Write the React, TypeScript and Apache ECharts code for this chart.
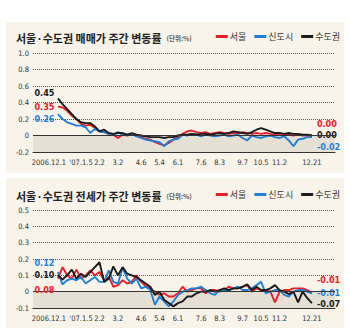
import React, { useEffect, useRef } from 'react';
import * as echarts from 'echarts';

// x positions: weekly observations, index 0 = 2006.12.1, index 55 = 2007.12.21
const tickWeeks = [0, 5, 9, 13, 18, 22, 26, 31, 35, 40, 44, 48, 55];
const tickLabels = ['2006.12.1', "'07.1.5", '2.2', '3.2', '4.6', '5.4', '6.1', '7.6', '8.3', '9.7', '10.5', '11.2', '12.21'];
const seriesNames = ['서울', '신도시', '수도권'];

// 매매가 (sale price) weekly change, %
const saleSeoul = [0.35, 0.34, 0.30, 0.24, 0.20, 0.14, 0.12, 0.13, 0.09, 0.05, 0.04, 0.02, 0.01, -0.03, 0.01, 0.0, 0.02, 0.0, -0.02, -0.04, -0.05, -0.08, -0.10, -0.12, -0.09, -0.05, -0.02, 0.02, 0.05, 0.06, 0.04, 0.03, 0.04, 0.02, 0.03, 0.04, 0.03, 0.02, 0.03, 0.02, 0.04, 0.03, 0.02, 0.03, 0.02, 0.03, 0.02, 0.01, 0.02, 0.02, 0.01, 0.0, 0.01, 0.0, 0.0, 0.0];
const saleNewTown = [0.26, 0.20, 0.16, 0.14, 0.12, 0.12, 0.10, 0.03, 0.08, 0.05, 0.04, 0.02, 0.01, 0.04, 0.01, 0.01, 0.02, -0.01, -0.03, -0.05, -0.06, -0.07, -0.08, -0.13, -0.07, -0.05, -0.04, 0.01, 0.0, 0.02, 0.01, -0.01, 0.01, 0.0, -0.01, 0.0, 0.01, -0.01, 0.0, 0.01, -0.03, -0.06, 0.0, -0.02, -0.03, -0.01, 0.0, -0.02, -0.03, -0.01, -0.06, -0.13, -0.05, -0.04, -0.02, -0.02];
const saleCapital = [0.45, 0.38, 0.32, 0.26, 0.20, 0.16, 0.15, 0.15, 0.11, 0.05, 0.07, 0.03, 0.02, 0.03, 0.03, 0.01, 0.03, 0.01, 0.0, -0.01, -0.02, -0.02, -0.02, -0.03, -0.02, -0.02, 0.0, 0.01, 0.01, 0.02, 0.01, 0.02, 0.02, 0.01, 0.02, 0.03, 0.02, 0.03, 0.05, 0.04, 0.03, 0.02, 0.04, 0.07, 0.09, 0.07, 0.05, 0.03, 0.03, 0.02, 0.03, 0.02, 0.02, 0.01, 0.01, 0.0];

// 전세가 (jeonse) weekly change, %
const rentSeoul = [0.08, 0.15, 0.10, 0.08, 0.135, 0.08, 0.10, 0.13, 0.10, 0.12, 0.07, 0.09, 0.03, 0.04, 0.07, 0.05, 0.06, 0.10, 0.06, 0.035, 0.02, 0.0, -0.02, -0.01, -0.03, -0.03, -0.01, 0.03, 0.0, 0.01, 0.02, 0.02, -0.01, 0.01, 0.01, 0.0, 0.01, 0.03, 0.02, 0.02, 0.03, 0.04, 0.0, 0.02, 0.01, 0.01, 0.0, -0.065, 0.0, 0.01, 0.01, 0.02, 0.02, 0.02, 0.01, -0.01];
const rentNewTown = [0.12, 0.045, 0.07, 0.08, 0.07, 0.09, 0.05, 0.07, 0.09, 0.06, 0.06, 0.13, 0.06, 0.05, 0.145, 0.08, 0.05, 0.08, 0.02, 0.03, 0.01, -0.08, -0.03, -0.06, -0.09, -0.06, -0.02, 0.0, 0.01, 0.02, 0.02, 0.03, 0.01, -0.01, -0.02, 0.01, 0.01, 0.01, 0.02, 0.03, 0.01, 0.01, 0.02, 0.04, 0.06, -0.01, 0.0, 0.01, 0.01, -0.02, -0.03, 0.0, 0.01, 0.01, 0.0, -0.01];
const rentCapital = [0.10, 0.075, 0.10, 0.135, 0.08, 0.11, 0.09, 0.12, 0.15, 0.18, 0.06, 0.08, 0.155, 0.10, 0.15, 0.11, 0.10, 0.09, 0.07, 0.05, 0.03, -0.02, 0.0, -0.05, -0.07, -0.09, -0.07, -0.06, -0.03, -0.03, -0.01, 0.0, 0.0, 0.01, 0.0, 0.01, 0.02, 0.01, 0.02, 0.02, 0.03, 0.045, 0.01, 0.03, 0.01, 0.01, 0.02, 0.04, 0.01, 0.0, -0.015, 0.0, -0.065, 0.0, -0.04, -0.07];

const RED = '#e5202b';
const BLUE = '#1f7fd6';
const BLACK = '#1a1a1a';
const BEIGE = '#f8f4ea';
const SHADE = '#e4e0d3';
const NUM_FONT = '"Liberation Sans Narrow", "DejaVu Sans Condensed", "Roboto", sans-serif';
const KR_FONT = '"Noto Sans CJK KR", sans-serif';

const fmt2 = (v: number) => v.toFixed(2);

function lineSeries(
  name: string,
  values: number[],
  color: string,
  axisIndex: number,
  startDy: number,
  endDy: number,
  extra: any = {}
) {
  return {
    name,
    type: 'line',
    xAxisIndex: axisIndex,
    yAxisIndex: axisIndex,
    showSymbol: false,
    symbol: 'none',
    lineStyle: { color, width: 1.9 },
    itemStyle: { color },
    data: values.map((v, i) => [i, v]),
    markPoint: {
      silent: true,
      symbol: 'circle',
      symbolSize: 1,
      itemStyle: { color: 'rgba(0,0,0,0)' },
      data: [
        {
          coord: [0, values[0]],
          label: {
            show: true,
            position: 'left',
            distance: 3,
            offset: [0, startDy],
            formatter: () => fmt2(values[0]),
            color,
            fontSize: 9,
            fontWeight: 'bold',
            fontFamily: NUM_FONT,
          },
        },
      ],
    },
    endLabel: {
      show: true,
      distance: 5,
      offset: [0, endDy],
      formatter: (p: any) => fmt2(p.value[1]),
      color,
      fontSize: 9,
      fontWeight: 'bold',
      fontFamily: NUM_FONT,
    },
    z: 3,
    ...extra,
  };
}

function zeroDecor(minY: number) {
  return {
    markArea: {
      silent: true,
      itemStyle: { color: SHADE },
      data: [[{ yAxis: minY }, { yAxis: 0 }]],
    },
    markLine: {
      silent: true,
      symbol: 'none',
      label: { show: false },
      lineStyle: { color: '#333', width: 1, type: 'solid' },
      data: [{ yAxis: 0 }],
    },
  };
}

function xAxis(gridIndex: number) {
  const weekIdx = saleSeoul.map((_, i) => i);
  return {
    type: 'value',
    gridIndex,
    min: -5.4,
    max: 60,
    splitLine: { show: false },
    axisLine: { show: true, onZero: false, lineStyle: { color: '#333', width: 1 } },
    axisTick: {
      show: true,
      inside: true,
      length: 3,
      customValues: weekIdx,
      lineStyle: { color: '#333', width: 1 },
    },
    axisLabel: {
      show: true,
      customValues: tickWeeks,
      margin: 6,
      fontSize: 7.5,
      color: '#333',
      fontFamily: NUM_FONT,
      formatter: (v: number) => {
        const k = tickWeeks.indexOf(Math.round(v));
        if (k < 0) return '';
        return k === 0 ? '{f|' + tickLabels[k] + '}' : tickLabels[k];
      },
      rich: {
        f: { fontSize: 7.5, color: '#333', fontFamily: NUM_FONT, padding: [0, 18, 0, 0] },
      },
    },
  };
}

function yAxis(gridIndex: number, min: number, max: number, interval: number) {
  return {
    type: 'value',
    gridIndex,
    min,
    max,
    interval,
    axisLine: { show: false },
    axisTick: { show: false },
    splitLine: { show: true, lineStyle: { color: '#555', width: 1, type: [1, 1] } },
    axisLabel: {
      margin: 4,
      fontSize: 7.5,
      color: '#333',
      fontFamily: NUM_FONT,
      formatter: (v: number) => (Math.abs(v) < 1e-9 ? '0' : v.toFixed(1)),
    },
  };
}

function titleOf(text: string, top: number) {
  return {
    left: 16,
    top,
    padding: 0,
    text: '{a|' + text + '} {b|(단위:%)}',
    textStyle: {
      lineHeight: 13,
      rich: {
        a: { fontSize: 11, lineHeight: 13, fontWeight: 'bold', color: '#222', fontFamily: KR_FONT },
        b: { fontSize: 6.5, lineHeight: 13, color: '#555', fontFamily: KR_FONT },
      },
    },
  };
}

function legendOf(top: number) {
  return {
    top,
    right: 10,
    padding: 0,
    icon: 'rect',
    itemWidth: 12,
    itemHeight: 3,
    itemGap: 8,
    data: seriesNames,
    textStyle: { fontSize: 9, color: '#333', fontFamily: KR_FONT, padding: [0, 0, 0, -3] },
  };
}

export default function App() {
  const ref = useRef<HTMLDivElement>(null);
  useEffect(() => {
    if (!ref.current) return;
    const chart = echarts.init(ref.current, undefined, { renderer: 'svg' });
    chart.setOption({
      animation: false,
      backgroundColor: '#ffffff',
      graphic: [
        { type: 'rect', z: -10, shape: { x: 6, y: 22, width: 338, height: 151 }, style: { fill: BEIGE } },
        { type: 'rect', z: -10, shape: { x: 6, y: 178, width: 338, height: 150 }, style: { fill: BEIGE } },
      ],
      title: [titleOf('서울·수도권 매매가 주간 변동률', 31), titleOf('서울·수도권 전세가 주간 변동률', 189)],
      legend: [legendOf(32), legendOf(190)],
      grid: [
        { left: 33, right: 15, top: 53, height: 99 },
        { left: 33, right: 15, top: 210, height: 98 },
      ],
      xAxis: [xAxis(0), xAxis(1)],
      yAxis: [yAxis(0, -0.2, 1.0, 0.2), yAxis(1, -0.1, 0.5, 0.1)],
      series: [
        lineSeries(seriesNames[0], saleSeoul, RED, 0, 0, -12, zeroDecor(-0.2)),
        lineSeries(seriesNames[1], saleNewTown, BLUE, 0, 5, 10),
        lineSeries(seriesNames[2], saleCapital, BLACK, 0, -5, -1),
        lineSeries(seriesNames[0], rentSeoul, RED, 1, 11, -13, zeroDecor(-0.1)),
        lineSeries(seriesNames[1], rentNewTown, BLUE, 1, -9, 0),
        lineSeries(seriesNames[2], rentCapital, BLACK, 1, 0, 1),
      ],
    });
    return () => chart.dispose();
  }, []);
  return <div ref={ref} style={{ position: 'fixed', left: 0, top: 0, width: 350, height: 334 }} />;
}
